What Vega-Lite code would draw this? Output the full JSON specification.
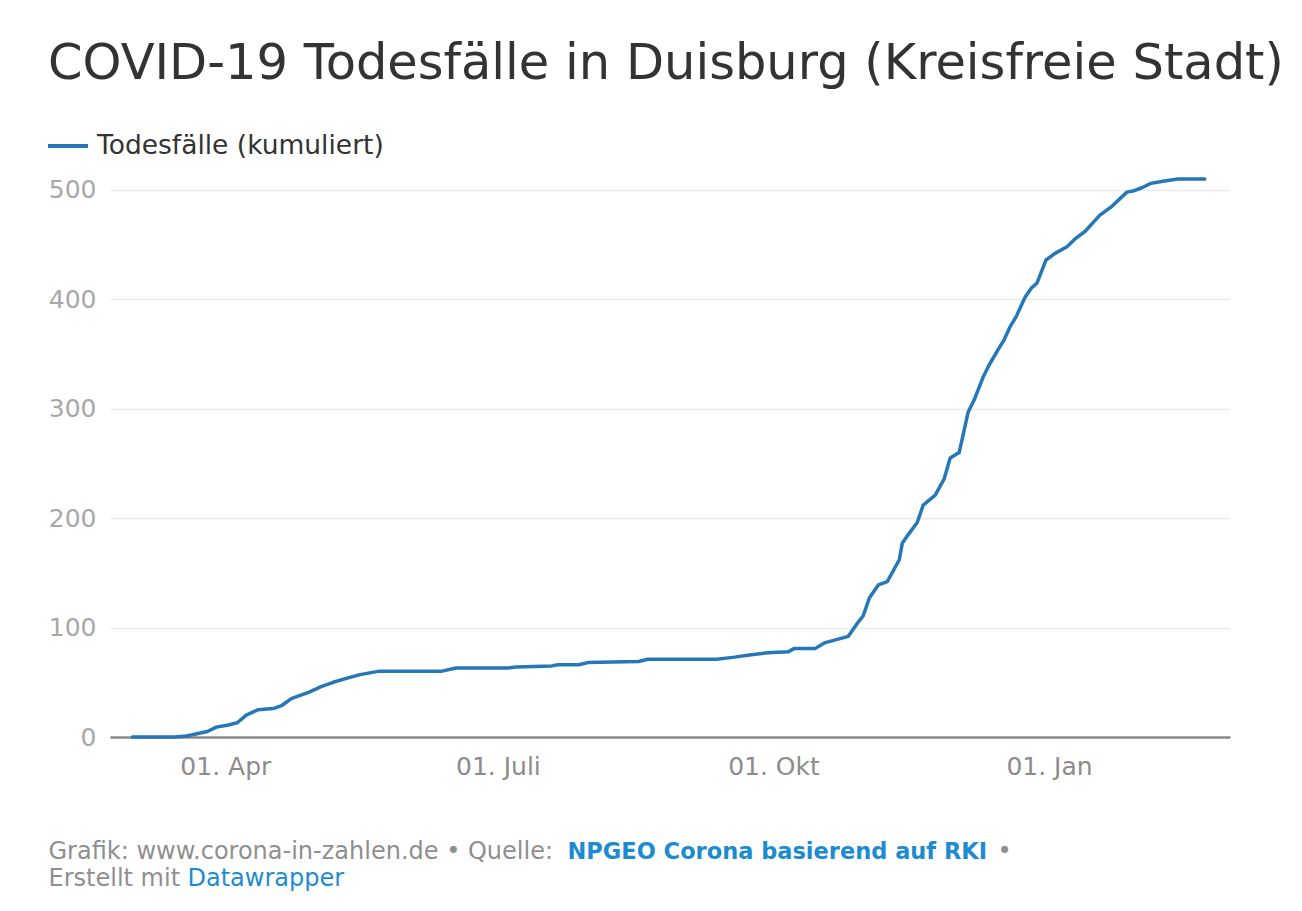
{
  "$schema": "https://vega.github.io/schema/vega-lite/v6.json",
  "width": 1120,
  "height": 558,
  "autosize": {"type": "none"},
  "padding": {"left": 110, "top": 179, "right": 72, "bottom": 174},
  "background": "#ffffff",
  "config": {
    "font": "DejaVu Sans",
    "view": {"stroke": null}
  },
  "title": {
    "text": "COVID-19 Todesfälle in Duisburg (Kreisfreie Stadt)",
    "anchor": "start",
    "frame": "group",
    "dx": -62,
    "dy": 48,
    "fontSize": 49.5,
    "fontWeight": "normal",
    "color": "#333333",
    "baseline": "alphabetic",
    "offset": 44
  },
  "data": {
    "values": [
      {"date": "2020-03-01", "value": 0},
      {"date": "2020-03-15", "value": 0},
      {"date": "2020-03-19", "value": 1},
      {"date": "2020-03-21", "value": 2},
      {"date": "2020-03-26", "value": 5},
      {"date": "2020-03-29", "value": 9},
      {"date": "2020-04-02", "value": 11},
      {"date": "2020-04-05", "value": 13},
      {"date": "2020-04-08", "value": 20},
      {"date": "2020-04-12", "value": 25},
      {"date": "2020-04-17", "value": 26},
      {"date": "2020-04-20", "value": 29},
      {"date": "2020-04-23", "value": 35},
      {"date": "2020-04-26", "value": 38},
      {"date": "2020-04-29", "value": 41},
      {"date": "2020-05-03", "value": 46},
      {"date": "2020-05-07", "value": 50},
      {"date": "2020-05-12", "value": 54},
      {"date": "2020-05-16", "value": 57},
      {"date": "2020-05-22", "value": 60},
      {"date": "2020-06-12", "value": 60},
      {"date": "2020-06-17", "value": 63},
      {"date": "2020-07-04", "value": 63},
      {"date": "2020-07-07", "value": 64},
      {"date": "2020-07-19", "value": 65},
      {"date": "2020-07-21", "value": 66},
      {"date": "2020-07-28", "value": 66},
      {"date": "2020-07-31", "value": 68},
      {"date": "2020-08-17", "value": 69},
      {"date": "2020-08-20", "value": 71},
      {"date": "2020-09-12", "value": 71},
      {"date": "2020-09-18", "value": 73},
      {"date": "2020-09-23", "value": 75},
      {"date": "2020-09-29", "value": 77},
      {"date": "2020-10-06", "value": 78},
      {"date": "2020-10-08", "value": 81},
      {"date": "2020-10-15", "value": 81},
      {"date": "2020-10-18", "value": 86},
      {"date": "2020-10-22", "value": 89},
      {"date": "2020-10-26", "value": 92},
      {"date": "2020-10-29", "value": 104},
      {"date": "2020-10-31", "value": 111},
      {"date": "2020-11-02", "value": 127},
      {"date": "2020-11-05", "value": 139},
      {"date": "2020-11-08", "value": 142},
      {"date": "2020-11-12", "value": 162},
      {"date": "2020-11-13", "value": 177},
      {"date": "2020-11-15", "value": 185},
      {"date": "2020-11-18", "value": 196},
      {"date": "2020-11-20", "value": 212},
      {"date": "2020-11-24", "value": 221},
      {"date": "2020-11-27", "value": 236},
      {"date": "2020-11-29", "value": 255},
      {"date": "2020-12-02", "value": 260},
      {"date": "2020-12-05", "value": 297},
      {"date": "2020-12-07", "value": 308},
      {"date": "2020-12-10", "value": 329},
      {"date": "2020-12-12", "value": 340},
      {"date": "2020-12-15", "value": 354},
      {"date": "2020-12-17", "value": 363},
      {"date": "2020-12-19", "value": 375},
      {"date": "2020-12-21", "value": 384},
      {"date": "2020-12-24", "value": 402},
      {"date": "2020-12-26", "value": 410},
      {"date": "2020-12-28", "value": 415},
      {"date": "2020-12-31", "value": 436},
      {"date": "2021-01-03", "value": 442},
      {"date": "2021-01-07", "value": 448},
      {"date": "2021-01-10", "value": 456},
      {"date": "2021-01-13", "value": 462},
      {"date": "2021-01-16", "value": 471},
      {"date": "2021-01-18", "value": 477},
      {"date": "2021-01-22", "value": 485},
      {"date": "2021-01-27", "value": 498},
      {"date": "2021-01-29", "value": 499},
      {"date": "2021-02-01", "value": 502},
      {"date": "2021-02-04", "value": 506},
      {"date": "2021-02-08", "value": 508},
      {"date": "2021-02-13", "value": 510},
      {"date": "2021-02-22", "value": 510}
    ]
  },
  "resolve": {"scale": {"x": "independent", "y": "independent"}},
  "layer": [
    {
      "mark": {"type": "line", "strokeWidth": 3.5, "strokeCap": "round", "strokeJoin": "round"},
      "encoding": {
        "x": {
          "field": "date",
          "type": "temporal",
          "scale": {
            "type": "utc",
            "domain": [
              {"year": 2020, "month": 2, "date": 22, "hours": 12, "utc": true},
              {"year": 2021, "month": 3, "date": 2, "hours": 10, "utc": true}
            ]
          },
          "axis": {
            "values": [
              {"year": 2020, "month": 4, "date": 1, "utc": true},
              {"year": 2020, "month": 7, "date": 1, "utc": true},
              {"year": 2020, "month": 10, "date": 1, "utc": true},
              {"year": 2021, "month": 1, "date": 1, "utc": true}
            ],
            "labelExpr": "utcFormat(datum.value, '%d') + '. ' + ['Jan','Feb','März','Apr','Mai','Juni','Juli','Aug','Sep','Okt','Nov','Dez'][utcmonth(datum.value)]",
            "labelFontSize": 25,
            "labelColor": "#8c8c8c",
            "labelPadding": 17,
            "labelOverlap": false,
            "ticks": false,
            "tickSize": 0,
            "grid": false,
            "domain": true,
            "domainColor": "#8a8a8a",
            "domainWidth": 2.5,
            "title": ["Grafik: www.corona-in-zahlen.de • Quelle:", "Erstellt mit"],
            "titleX": -62,
            "titleY": 121,
            "titleAlign": "left",
            "titleAnchor": "start",
            "titleBaseline": "alphabetic",
            "titleAngle": 0,
            "titleFontSize": 24,
            "titleFontWeight": "normal",
            "titleColor": "#8f8f8f",
            "titleLineHeight": 27
          }
        },
        "y": {
          "field": "value",
          "type": "quantitative",
          "scale": {"domain": [0, 510], "nice": false},
          "axis": {
            "values": [0, 100, 200, 300, 400, 500],
            "labelFontSize": 25,
            "labelColor": "#a8a8a8",
            "labelPadding": 14,
            "ticks": false,
            "tickSize": 0,
            "domain": false,
            "grid": true,
            "gridColor": "#ebebeb",
            "gridWidth": 1.5,
            "title": "NPGEO Corona basierend auf RKI",
            "titleX": 457,
            "titleY": 679,
            "titleAngle": 0,
            "titleAlign": "left",
            "titleAnchor": "start",
            "titleBaseline": "alphabetic",
            "titleFontSize": 22.5,
            "titleFontWeight": "bold",
            "titleColor": "#1d8bd1"
          }
        },
        "color": {
          "datum": "Todesfälle (kumuliert)",
          "type": "nominal",
          "scale": {"range": ["#2677b8"]},
          "legend": {
            "orient": "none",
            "legendX": -64,
            "legendY": -55,
            "title": null,
            "padding": 0,
            "symbolType": "stroke",
            "symbolSize": 1600,
            "symbolStrokeWidth": 4,
            "labelFontSize": 26.5,
            "labelColor": "#333333",
            "labelOffset": 7,
            "labelLimit": 600
          }
        }
      }
    },
    {
      "mark": {"type": "line", "strokeOpacity": 0},
      "encoding": {
        "x": {
          "field": "date",
          "type": "temporal",
          "scale": {
            "type": "utc",
            "domain": [
              {"year": 2020, "month": 2, "date": 22, "hours": 12, "utc": true},
              {"year": 2021, "month": 3, "date": 2, "hours": 10, "utc": true}
            ]
          },
          "axis": {
            "orient": "top",
            "labels": false,
            "ticks": false,
            "domain": false,
            "grid": false,
            "title": "•",
            "titleX": 887,
            "titleY": 679,
            "titleAngle": 0,
            "titleAlign": "left",
            "titleAnchor": "start",
            "titleBaseline": "alphabetic",
            "titleFontSize": 24,
            "titleFontWeight": "normal",
            "titleColor": "#8f8f8f"
          }
        },
        "y": {
          "field": "value",
          "type": "quantitative",
          "scale": {"domain": [0, 510], "nice": false},
          "axis": {
            "orient": "right",
            "labels": false,
            "ticks": false,
            "domain": false,
            "grid": false,
            "title": "Datawrapper",
            "titleX": -1043,
            "titleY": 706,
            "titleAngle": 0,
            "titleAlign": "left",
            "titleAnchor": "start",
            "titleBaseline": "alphabetic",
            "titleFontSize": 24,
            "titleFontWeight": "normal",
            "titleColor": "#1d8bd1"
          }
        }
      }
    }
  ]
}
